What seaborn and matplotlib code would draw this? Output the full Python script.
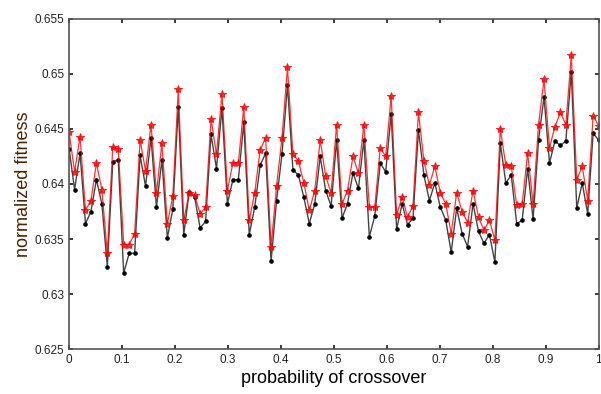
import seaborn as sns
import matplotlib
matplotlib.use("Agg")
import matplotlib.pyplot as plt
import numpy as np

# values, left to right
red_fitness = [
    0.6447, 0.6411, 0.6443, 0.6376, 0.6385, 0.6419, 0.6395, 0.6337, 0.6434, 0.6432,
    0.6345, 0.6345, 0.6355, 0.6440, 0.6412, 0.6454, 0.6392, 0.6437, 0.6364, 0.6389,
    0.6486, 0.6367, 0.6392, 0.6390, 0.6373, 0.6379, 0.6459, 0.6427, 0.6482, 0.6394,
    0.6419, 0.6419,
    0.6470, 0.6367, 0.6392, 0.6431, 0.6442, 0.6343, 0.6398, 0.6442, 0.6506, 0.6427,
    0.6421, 0.6401, 0.6376, 0.6394, 0.6440, 0.6407, 0.6392, 0.6454, 0.6382, 0.6394,
    0.6425, 0.6410, 0.6454, 0.6379, 0.6379, 0.6433, 0.6425, 0.6480, 0.6372, 0.6388,
    0.6370, 0.6380, 0.6465,
    0.6421, 0.6399, 0.6416, 0.6392, 0.6382, 0.6355, 0.6392, 0.6375, 0.6365, 0.6394,
    0.6370, 0.6358, 0.6367, 0.6349, 0.6450, 0.6417, 0.6416, 0.6381, 0.6382, 0.6428,
    0.6382, 0.6454, 0.6495, 0.6433, 0.6452, 0.6465, 0.6454, 0.6517, 0.6404, 0.6416,
    0.6385, 0.6462, 0.6453,
]
black_fitness = [
    0.6432, 0.6395, 0.6428, 0.6364, 0.6375, 0.6404, 0.6382, 0.6325, 0.6420, 0.6422,
    0.6319, 0.6337, 0.6337, 0.6426, 0.6398, 0.6442, 0.6379, 0.6422, 0.6351, 0.6377,
    0.6470, 0.6354, 0.6393, 0.6388, 0.6360, 0.6366, 0.6445, 0.6414, 0.6469, 0.6382,
    0.6404, 0.6404,
    0.6456, 0.6354, 0.6379, 0.6417, 0.6428, 0.6330, 0.6385, 0.6427, 0.6490, 0.6413,
    0.6408, 0.6388, 0.6364, 0.6382, 0.6425, 0.6394, 0.6380, 0.6440, 0.6369, 0.6382,
    0.6410, 0.6396, 0.6440, 0.6352, 0.6371, 0.6419, 0.6411, 0.6464, 0.6359, 0.6382,
    0.6363, 0.6369, 0.6449,
    0.6408, 0.6385, 0.6401, 0.6379, 0.6367, 0.6338, 0.6378, 0.6355, 0.6343, 0.6382,
    0.6357, 0.6346, 0.6354, 0.6329, 0.6437, 0.6401, 0.6408, 0.6364, 0.6367, 0.6414,
    0.6368, 0.6440, 0.6479, 0.6419, 0.6439, 0.6435, 0.6439, 0.6502, 0.6378, 0.6401,
    0.6373, 0.6446, 0.6440,
]
crossover = np.linspace(0, 1, len(red_fitness))

x_ticks = [0, 0.1, 0.2, 0.3, 0.4, 0.5, 0.6, 0.7, 0.8, 0.9, 1]
x_labels = ["0", "0.1", "0.2", "0.3", "0.4", "0.5", "0.6", "0.7", "0.8", "0.9", "1"]
y_ticks = [0.625, 0.63, 0.635, 0.64, 0.645, 0.65, 0.655]
y_labels = ["0.625", "0.63", "0.635", "0.64", "0.645", "0.65", "0.655"]

sns.set_theme(style="white")
plt.rcParams['font.family'] = ['Liberation Sans', 'DejaVu Sans']

fig = plt.figure(figsize=(6.01, 3.94), dpi=100)
ax = fig.add_axes([0.115, 0.114, 0.881, 0.838])

sns.lineplot(x=crossover, y=black_fitness, ax=ax, color='#444444', linewidth=1.0,
             marker='.', markersize=5, markerfacecolor='black', markeredgecolor='black')
sns.lineplot(x=crossover, y=red_fitness, ax=ax, color='red', linewidth=0.9,
             marker='*', markersize=6, markerfacecolor='red', markeredgecolor='red', alpha=0.8)

ax.set_xlim(0, 1)
ax.set_ylim(0.625, 0.655)
ax.set_xticks(x_ticks)
ax.set_xticklabels(x_labels)
ax.set_yticks(y_ticks)
ax.set_yticklabels(y_labels)
ax.tick_params(direction='in', length=3, labelsize=8.5, colors='#222222',
               top=True, right=True, left=True, bottom=True)
for side in ax.spines.values():
    side.set_color('#555555')
    side.set_linewidth(1.2)

ax.set_xlabel('probability of crossover', fontsize=13, color='black', labelpad=3)
ax.set_ylabel('normalized fitness', fontsize=13, color='#4a2200', labelpad=2)

plt.savefig('out.png', dpi=100)
plt.close()
